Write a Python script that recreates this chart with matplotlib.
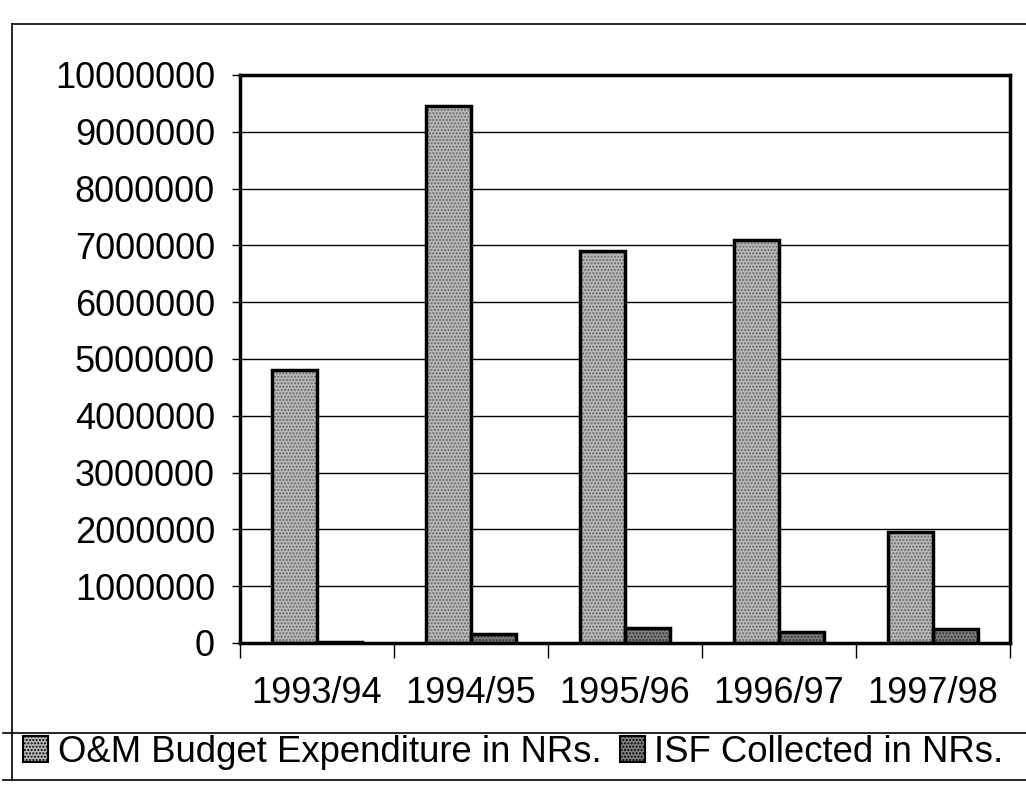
import matplotlib.pyplot as plt
from matplotlib.lines import Line2D
import numpy as np

plt.rcParams['font.family'] = ['Liberation Sans', 'DejaVu Sans']
plt.rcParams['hatch.linewidth'] = 1.0

# O&M budget vs ISF collected, per fiscal year
years = ["1993/94", "1994/95", "1995/96", "1996/97", "1997/98"]
om_budget = [4800000, 9450000, 6900000, 7100000, 1950000]
isf_collected = [20000, 160000, 260000, 190000, 250000]
y_ticks = [0, 1000000, 2000000, 3000000, 4000000, 5000000,
           6000000, 7000000, 8000000, 9000000, 10000000]

fig = plt.figure(figsize=(10.26, 7.99), dpi=100)
ax = fig.add_axes([240 / 1026, 1 - 643 / 799, 770 / 1026, 568 / 799])

x = np.arange(len(years))
w = 0.29

# stippled fills, then a heavy black outline on top
ax.bar(x - w / 2, om_budget, w, color="#b9b9b9", hatch=".....",
       edgecolor="#666666", linewidth=0, zorder=2)
ax.bar(x + w / 2, isf_collected, w, color="#808080", hatch=".....",
       edgecolor="#2e2e2e", linewidth=0, zorder=2)
ax.bar(x - w / 2, om_budget, w, fill=False, edgecolor="black",
       linewidth=2.5, zorder=3)
ax.bar(x + w / 2, isf_collected, w, fill=False, edgecolor="black",
       linewidth=2.5, zorder=3)

ax.set_xlim(-0.5, len(years) - 0.5)
ax.set_ylim(0, 10000000)
ax.set_yticks(y_ticks)
ax.set_yticklabels([str(v) for v in y_ticks], fontsize=26)
ax.grid(axis="y", color="black", linewidth=1.0, zorder=1)
ax.set_axisbelow(True)

ax.set_xticks(x)
ax.set_xticklabels(years, fontsize=26)
ax.set_xticks(np.arange(len(years) + 1) - 0.5, minor=True)
ax.tick_params(axis="x", which="major", length=0, pad=24)
ax.tick_params(axis="x", which="minor", length=11, width=1.0, direction="out")
ax.tick_params(axis="y", length=6, width=1.0, pad=12)

for s in ax.spines.values():
    s.set_linewidth(2.5)

# legend strip along the bottom
h1 = plt.Rectangle((0, 0), 1, 1, facecolor="#b9b9b9", hatch=".....",
                   edgecolor="black", linewidth=1.5)
h2 = plt.Rectangle((0, 0), 1, 1, facecolor="#808080", hatch=".....",
                   edgecolor="black", linewidth=1.5)
fig.legend([h1, h2], ["O&M Budget Expenditure in NRs.", "ISF Collected in NRs."],
           loc="center left", bbox_to_anchor=(0.008, 1 - 752 / 799), ncol=2,
           frameon=False, fontsize=26.3, handlelength=0.7, handleheight=0.7,
           handletextpad=0.25, columnspacing=0.5, borderaxespad=0)

# chart-area border and legend box lines
left = 12 / 1026
top = 1 - 24 / 799
fig.add_artist(Line2D([left, left], [1 - 780 / 799, top], color="black", lw=1.2))
fig.add_artist(Line2D([left, 1], [top, top], color="black", lw=1.2))
fig.add_artist(Line2D([0.003, 1], [1 - 733 / 799] * 2, color="black", lw=1.2))
fig.add_artist(Line2D([0.003, 1], [1 - 780 / 799] * 2, color="black", lw=1.2))

fig.savefig("out.png", dpi=100)
